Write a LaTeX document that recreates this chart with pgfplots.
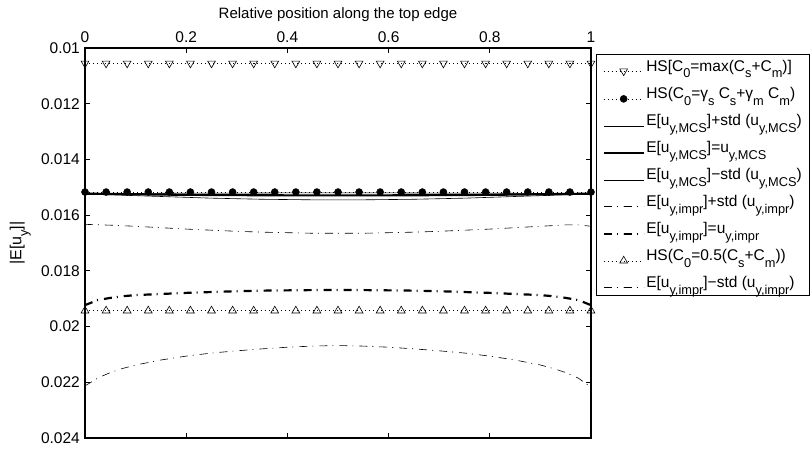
\documentclass[border=0pt]{standalone}
\usepackage{fontspec}
\setmainfont{Liberation Sans}
\usepackage{pgfplots}
\pgfplotsset{compat=1.18}
\newcommand\sub[1]{\raisebox{-0.42em}{\fontsize{12.8}{13}\selectfont #1}}
\begin{document}
\fontsize{15}{18}\selectfont
\begin{tikzpicture}
\begin{axis}[
  scale only axis, width=506pt, height=390pt,
  at={(0pt,0pt)}, anchor=south west,
  xmin=0, xmax=1, ymin=0.01, ymax=0.024, y dir=reverse,
  xtick={0,0.2,0.4,0.6,0.8,1},
  ytick={0.01,0.012,0.014,0.016,0.018,0.02,0.022,0.024},
  tick pos=both, xticklabel pos=upper,
  tick align=inside, major tick length=5pt,
  scaled y ticks=false, scaled x ticks=false,
  yticklabel style={/pgf/number format/fixed,/pgf/number format/precision=3},
  /pgf/number format/assume math mode=true,
  tick label style={font=\fontsize{15.5}{18}\selectfont},
  axis line style={line width=1.1pt},
  tick style={line width=0.8pt, black},
  xlabel={Relative position along the top edge},
  ylabel={|E[u\sub{y}]|},
  ylabel style={font=\fontsize{16}{18}\selectfont},
  legend cell align=left,
  legend style={at={(1.0099,0.985)}, anchor=north west, draw=black, line width=1.1pt,
    font=\fontsize{15.5}{17}\selectfont, row sep=10.5pt, inner xsep=6pt, inner ysep=4pt,
    nodes={inner sep=1.5pt, anchor=base west}},
  legend image code/.code={\draw[mark repeat=2,mark phase=2,line width=\pgflinewidth] plot coordinates {(0pt,0pt) (20pt,0pt) (40pt,0pt)};},
]
% HS max
\addplot[black, line width=0.5pt, dash pattern=on 1pt off 3pt, mark=triangle, mark size=4.5pt, mark options={solid, rotate=180, fill=white, line width=0.6pt}]
coordinates {(0,0.01055)(0.0417,0.01055)(0.0833,0.01055)(0.125,0.01055)(0.1667,0.01055)(0.2083,0.01055)(0.25,0.01055)(0.2917,0.01055)(0.3333,0.01055)(0.375,0.01055)(0.4167,0.01055)(0.4583,0.01055)(0.5,0.01055)(0.5417,0.01055)(0.5833,0.01055)(0.625,0.01055)(0.6667,0.01055)(0.7083,0.01055)(0.75,0.01055)(0.7917,0.01055)(0.8333,0.01055)(0.875,0.01055)(0.9167,0.01055)(0.9583,0.01055)(1,0.01055)};
\addlegendentry{HS[C\sub{0}=max(C\sub{s}+C\sub{m})]}
% HS gamma
\addplot[black, line width=0.5pt, dash pattern=on 1pt off 3pt, mark=*, mark size=3.5pt, mark options={solid, fill=black}]
coordinates {(0,0.01517)(0.0417,0.01517)(0.0833,0.01517)(0.125,0.01517)(0.1667,0.01517)(0.2083,0.01517)(0.25,0.01517)(0.2917,0.01517)(0.3333,0.01517)(0.375,0.01517)(0.4167,0.01517)(0.4583,0.01517)(0.5,0.01517)(0.5417,0.01517)(0.5833,0.01517)(0.625,0.01517)(0.6667,0.01517)(0.7083,0.01517)(0.75,0.01517)(0.7917,0.01517)(0.8333,0.01517)(0.875,0.01517)(0.9167,0.01517)(0.9583,0.01517)(1,0.01517)};
\addlegendentry{HS(C\sub{0}=γ\sub{s} C\sub{s}+γ\sub{m} C\sub{m})}
% MCS +std
\addplot[black, line width=0.6pt]
coordinates {(0,0.01524)(0.05,0.01527)(0.1,0.01530)(0.15,0.01533)(0.2,0.01536)(0.25,0.01539)(0.3,0.01541)(0.35,0.01543)(0.4,0.01544)(0.45,0.01545)(0.5,0.01545)(0.55,0.01545)(0.6,0.01544)(0.65,0.01543)(0.7,0.01541)(0.75,0.01539)(0.8,0.01536)(0.85,0.01533)(0.9,0.01530)(0.95,0.01527)(1,0.01524)};
\addlegendentry{E[u\sub{y,MCS}]+std (u\sub{y,MCS})}
% MCS mean
\addplot[black, line width=2.2pt]
coordinates {(0,0.01523)(0.1,0.01525)(0.2,0.01527)(0.3,0.01528)(0.4,0.01529)(0.5,0.01529)(0.6,0.01529)(0.7,0.01528)(0.8,0.01527)(0.9,0.01525)(1,0.01523)};
\addlegendentry{E[u\sub{y,MCS}]=u\sub{y,MCS}}
% MCS -std
\addplot[black, line width=0.6pt]
coordinates {(0,0.01522)(0.1,0.01522)(0.2,0.01521)(0.3,0.01521)(0.4,0.01520)(0.5,0.01520)(0.6,0.01520)(0.7,0.01521)(0.8,0.01521)(0.9,0.01522)(1,0.01522)};
\addlegendentry{E[u\sub{y,MCS}]−std (u\sub{y,MCS})}
% impr +std
\addplot[black, line width=0.6pt, dash pattern=on 8pt off 5pt on 1pt off 6pt]
coordinates {(0,0.01633)(0.05,0.01636)(0.1,0.01640)(0.15,0.01645)(0.2,0.01650)(0.25,0.01654)(0.3,0.01658)(0.35,0.01661)(0.4,0.01663)(0.45,0.01665)(0.5,0.01665)(0.55,0.01665)(0.6,0.01663)(0.65,0.01661)(0.7,0.01658)(0.75,0.01654)(0.8,0.01650)(0.85,0.01645)(0.9,0.01640)(0.95,0.01635)(0.975,0.01635)(1,0.01640)};
\addlegendentry{E[u\sub{y,impr}]+std (u\sub{y,impr})}
% impr mean
\addplot[black, line width=2.2pt, dash pattern=on 8pt off 5pt on 1pt off 6pt]
coordinates {(0,0.01923)(0.025,0.01905)(0.05,0.01897)(0.075,0.01891)(0.1,0.01887)(0.15,0.01883)(0.2,0.01879)(0.25,0.01876)(0.3,0.01873)(0.35,0.01871)(0.4,0.01870)(0.45,0.01869)(0.5,0.01869)(0.55,0.01869)(0.6,0.01870)(0.65,0.01871)(0.7,0.01873)(0.75,0.01876)(0.8,0.01879)(0.85,0.01883)(0.9,0.01887)(0.925,0.01891)(0.95,0.01897)(0.975,0.01905)(1,0.01923)};
\addlegendentry{E[u\sub{y,impr}]=u\sub{y,impr}}
% HS 0.5
\addplot[black, line width=0.5pt, dash pattern=on 1pt off 3pt, mark=triangle, mark size=4.5pt, mark options={solid, fill=white, line width=0.6pt}]
coordinates {(0,0.01943)(0.0417,0.01943)(0.0833,0.01943)(0.125,0.01943)(0.1667,0.01943)(0.2083,0.01943)(0.25,0.01943)(0.2917,0.01943)(0.3333,0.01943)(0.375,0.01943)(0.4167,0.01943)(0.4583,0.01943)(0.5,0.01943)(0.5417,0.01943)(0.5833,0.01943)(0.625,0.01943)(0.6667,0.01943)(0.7083,0.01943)(0.75,0.01943)(0.7917,0.01943)(0.8333,0.01943)(0.875,0.01943)(0.9167,0.01943)(0.9583,0.01943)(1,0.01943)};
\addlegendentry{HS(C\sub{0}=0.5(C\sub{s}+C\sub{m}))}
% impr -std
\addplot[black, line width=0.6pt, dash pattern=on 8pt off 5pt on 1pt off 6pt]
coordinates {(0,0.02213)(0.025,0.02185)(0.05,0.02165)(0.075,0.02150)(0.1,0.02138)(0.15,0.02120)(0.2,0.02106)(0.25,0.02095)(0.3,0.02087)(0.35,0.02080)(0.4,0.02074)(0.45,0.02070)(0.5,0.02068)(0.55,0.02070)(0.6,0.02074)(0.65,0.02080)(0.7,0.02087)(0.75,0.02095)(0.8,0.02106)(0.85,0.02120)(0.9,0.02138)(0.925,0.02150)(0.95,0.02165)(0.975,0.02185)(1,0.02218)};
\addlegendentry{E[u\sub{y,impr}]−std (u\sub{y,impr})}
\end{axis}
\pgfresetboundingbox
\path[use as bounding box] (-85pt,-10pt) rectangle (725pt,438pt);
\end{tikzpicture}
\end{document}
